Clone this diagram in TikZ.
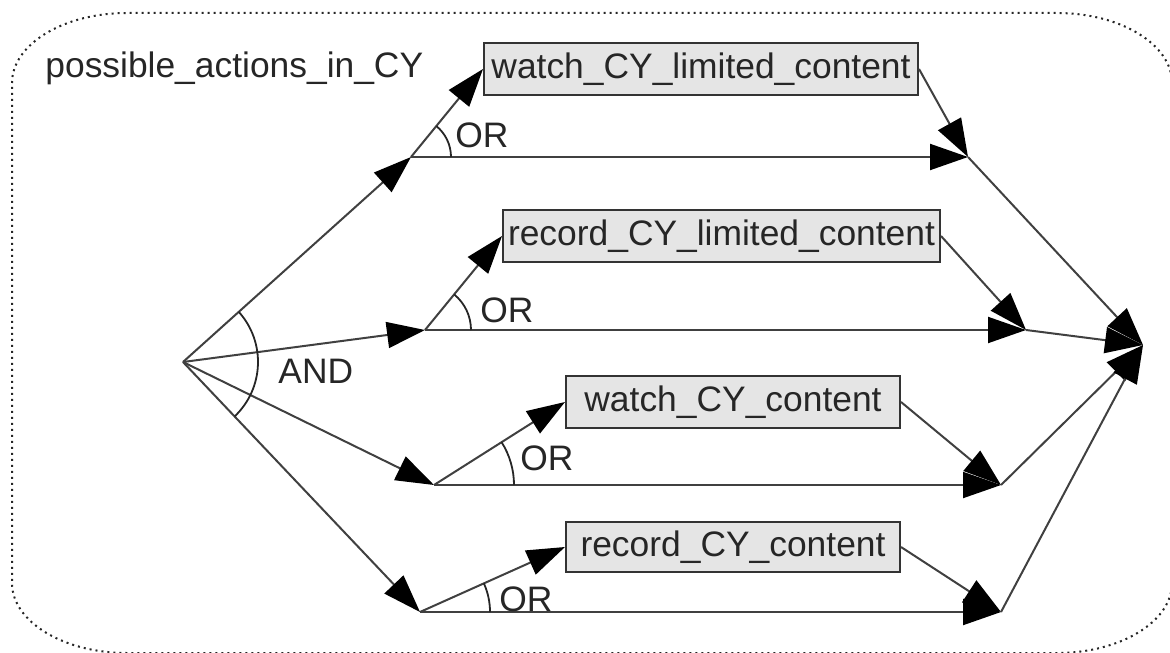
\documentclass[tikz,border=0pt]{standalone}
\usepackage{fontspec}
\setmainfont{Liberation Sans}
\usetikzlibrary{arrows.meta,angles}
\begin{document}
\begin{tikzpicture}[x=0.5pt,y=-0.5pt,
  every node/.style={font=\fontsize{17.7}{21}\selectfont, text=black!85},
  act/.style={draw=black!80, line width=1pt, fill=black!10, inner sep=0pt, minimum height=26pt},
  con/.style={draw=black!75, line width=1pt, -{Triangle[length=19pt,width=13pt,color=black]}},
  ang/.style={draw=black!85, line width=0.9pt, angle radius=#1},
  lbl/.style={anchor=base west, inner sep=0pt},
]
\useasboundingbox (0,0) rectangle (1170,652);
% outer dotted frame
\draw[dotted, line width=1pt, black!85]
  (12,83) .. controls (12,44.4) and (63.5,13) .. (127,13)
  -- (1057,13) .. controls (1120.5,13) and (1172,44.4) .. (1172,83)
  -- (1172,583) .. controls (1172,621.6) and (1120.5,653) .. (1057,653)
  -- (127,653) .. controls (63.5,653) and (12,621.6) .. (12,583) -- cycle;
\node[lbl] (title) at (45,78) {possible\_actions\_in\_CY};

% points
\coordinate (s) at (183,362);
\coordinate (j1) at (411,157);
\coordinate (j2) at (425,330);
\coordinate (j3) at (434,485);
\coordinate (j4) at (420,612);
\coordinate (m1) at (968,157);
\coordinate (m2) at (1026,330);
\coordinate (m3) at (1001,485);
\coordinate (m4) at (1001,612);
\coordinate (f) at (1143,345);

% actions
\node[act, minimum width=217pt] (b1) at (701,69) {watch\_CY\_limited\_content};
\node[act, minimum width=218.5pt] (b2) at (721.5,236) {record\_CY\_limited\_content};
\node[act, minimum width=167pt] (b3) at (733,402) {watch\_CY\_content};
\node[act, minimum width=167pt, minimum height=25pt] (b4) at (733,547) {record\_CY\_content};
\coordinate (b1w) at (b1.west);
\coordinate (b2w) at (b2.west);
\coordinate (b3w) at (b3.west);
\coordinate (b4w) at (b4.west);

% AND fork
\draw[con] (s) -- (j1);
\draw[con] (s) -- (j2);
\draw[con] (s) -- (j3);
\draw[con] (s) -- (j4);
\pic[ang=37.5pt] {angle = j4--s--j1};
\node[lbl] (and) at (278,383) {AND};

% OR branches
\draw[con] (j1) -- (b1w);
\draw[con] (j1) -- (m1);
\draw[con] (b1.east) -- (m1);
\pic[ang=20pt] {angle = m1--j1--b1w};
\node[lbl] (or1) at (455,148) {OR};

\draw[con] (j2) -- (b2w);
\draw[con] (j2) -- (m2);
\draw[con] (b2.east) -- (m2);
\pic[ang=23pt] {angle = m2--j2--b2w};
\node[lbl] (or2) at (480,322) {OR};

\draw[con] (j3) -- (b3w);
\draw[con] (j3) -- (m3);
\draw[con] (b3.east) -- (m3);
\pic[ang=40pt] {angle = m3--j3--b3w};
\node[lbl] (or3) at (520,470) {OR};

\draw[con] (j4) -- (b4w);
\draw[con] (j4) -- (m4);
\draw[con] (b4.east) -- (m4);
\pic[ang=35pt] {angle = m4--j4--b4w};
\node[lbl] (or4) at (499,611) {OR};

% join
\draw[con] (m1) -- (f);
\draw[con] (m2) -- (f);
\draw[con] (m3) -- (f);
\draw[con] (m4) -- (f);
\end{tikzpicture}
\end{document}
